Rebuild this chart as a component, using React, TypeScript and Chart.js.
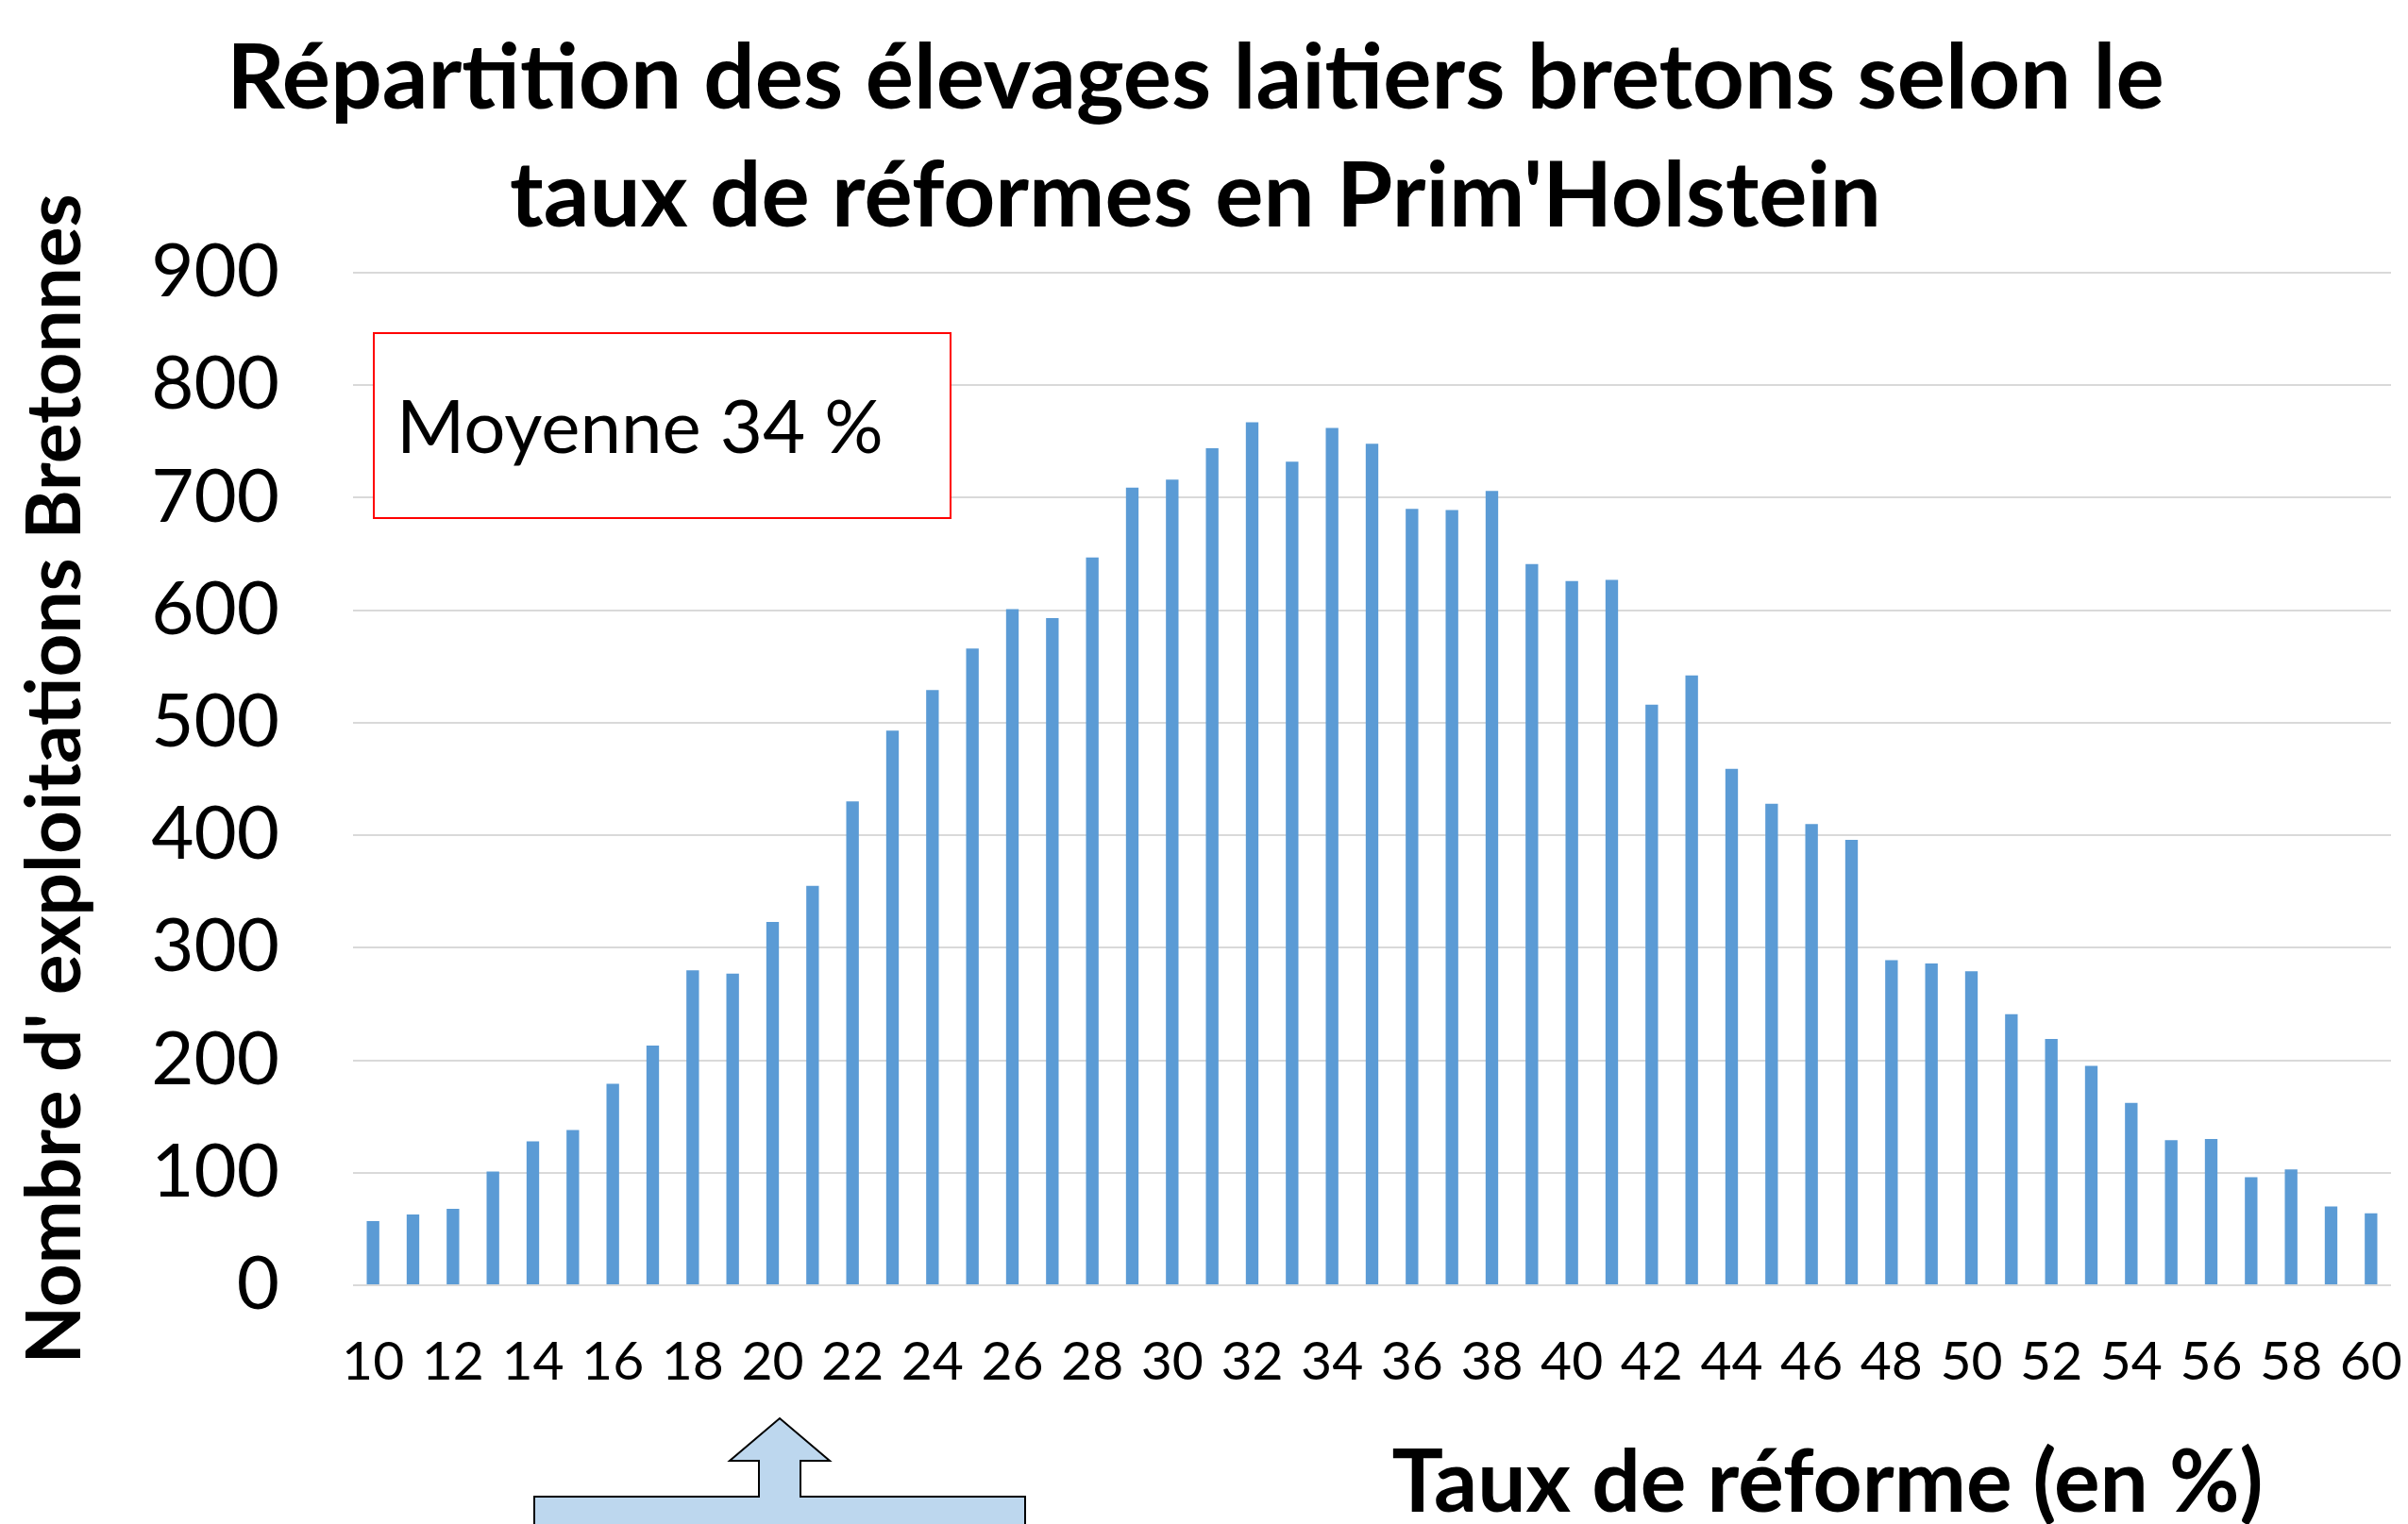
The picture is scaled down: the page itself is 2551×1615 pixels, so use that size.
import React, { useEffect, useRef } from 'react';
import { Chart, registerables } from 'chart.js';

Chart.register(...registerables);

// ---- Data ----
const categories: string[] = [
  '10', '11', '12', '13', '14', '15', '16', '17', '18', '19',
  '20', '21', '22', '23', '24', '25', '26', '27', '28', '29',
  '30', '31', '32', '33', '34', '35', '36', '37', '38', '39',
  '40', '41', '42', '43', '44', '45', '46', '47', '48', '49',
  '50', '51', '52', '53', '54', '55', '56', '57', '58', '59', '60',
];

const counts: number[] = [
  57, 63, 68, 101, 128, 138, 179, 213, 280, 277,
  323, 355, 430, 493, 529, 566, 601, 593, 647, 709,
  716, 744, 767, 732, 762, 748, 690, 689, 706, 641,
  626, 627, 516, 542, 459, 428, 410, 396, 289, 286,
  279, 241, 219, 195, 162, 129, 130, 96, 103, 70, 64,
];

const yMin = 0;
const yMax = 900;
const yStep = 100;

const titleLines: string[] = [
  'Répartition des élevages laitiers bretons selon le',
  "taux de réformes en Prim'Holstein",
];
const yAxisTitle = "Nombre d' exploitations Bretonnes";
const xAxisTitle = 'Taux de réforme (en %)';
const annotationText = 'Moyenne 34 %';

// ---- Styles ----
const BAR_COLOR = '#5B9BD5';
const GRID_COLOR = '#D9D9D9';
const FONT = 'Lato';

const overlayPlugin = {
  id: 'overlay',
  afterDraw(chart: any) {
    const ctx = chart.ctx as CanvasRenderingContext2D;
    ctx.save();

    // Annotation box "Moyenne 34 %"
    const bx = 396, by = 353, bw = 611, bh = 196;
    ctx.fillStyle = '#FFFFFF';
    ctx.fillRect(bx, by, bw, bh);
    ctx.strokeStyle = '#FF0000';
    ctx.lineWidth = 2;
    ctx.strokeRect(bx, by, bw, bh);
    ctx.fillStyle = '#000000';
    ctx.font = `78px ${FONT}`;
    ctx.textAlign = 'left';
    ctx.textBaseline = 'alphabetic';
    ctx.fillText(annotationText, 420, 480);

    // X axis title (offset to the right, as in the original)
    ctx.font = `bold 91px ${FONT}`;
    ctx.textAlign = 'center';
    ctx.fillText(xAxisTitle, 1936, 1602);

    // Up-arrow callout at the bottom
    ctx.beginPath();
    ctx.moveTo(566, 1640);
    ctx.lineTo(566, 1586);
    ctx.lineTo(804, 1586);
    ctx.lineTo(804, 1548);
    ctx.lineTo(773, 1548);
    ctx.lineTo(826, 1503);
    ctx.lineTo(879, 1548);
    ctx.lineTo(848, 1548);
    ctx.lineTo(848, 1586);
    ctx.lineTo(1086, 1586);
    ctx.lineTo(1086, 1640);
    ctx.closePath();
    ctx.fillStyle = '#BDD7EE';
    ctx.fill();
    ctx.strokeStyle = '#000000';
    ctx.lineWidth = 2;
    ctx.stroke();

    ctx.restore();
  },
};

export default function App() {
  const canvasRef = useRef<HTMLCanvasElement | null>(null);

  useEffect(() => {
    const canvas = canvasRef.current;
    if (!canvas) return;
    const chart = new Chart(canvas, {
      type: 'bar',
      data: {
        labels: categories,
        datasets: [
          {
            label: 'Exploitations',
            data: counts,
            backgroundColor: BAR_COLOR,
            borderWidth: 0,
            categoryPercentage: 1,
            barPercentage: 0.315,
          },
        ],
      },
      options: {
        responsive: false,
        animation: false,
        devicePixelRatio: 1,
        layout: { padding: { top: 0, left: 0, right: 18, bottom: 0 } },
        plugins: {
          legend: { display: false },
          tooltip: { enabled: false },
          title: {
            display: true,
            text: titleLines,
            color: '#000000',
            font: { family: FONT, weight: 'bold', size: 96, lineHeight: 125 / 96 },
            padding: { top: 22, bottom: 17 },
          },
        },
        scales: {
          x: {
            grid: { display: false, drawTicks: false },
            border: { display: false },
            ticks: {
              autoSkip: false,
              maxRotation: 0,
              minRotation: 0,
              padding: 47,
              color: '#000000',
              font: { family: FONT, size: 57 },
              callback: function (this: any, value: any, index: number) {
                return index % 2 === 0 ? this.getLabelForValue(value) : '';
              },
            },
            afterFit: (scale: any) => {
              scale.height = 253;
              scale.paddingLeft = 0;
              scale.paddingRight = 0;
            },
          },
          y: {
            min: yMin,
            max: yMax,
            grid: { color: GRID_COLOR, lineWidth: 2, drawTicks: false },
            border: { display: false },
            ticks: {
              stepSize: yStep,
              padding: 78,
              color: '#000000',
              font: { family: FONT, size: 78 },
            },
            title: {
              display: true,
              text: yAxisTitle,
              color: '#000000',
              font: { family: FONT, weight: 'bold', size: 80 },
              padding: { top: 11, bottom: 0 },
            },
            afterFit: (scale: any) => {
              scale.width = 374;
            },
          },
        },
      },
      plugins: [overlayPlugin],
    });
    return () => chart.destroy();
  }, []);

  return (
    <div style={{ position: 'fixed', left: 0, top: 0, width: 2551, height: 1615, background: '#FFFFFF', overflow: 'hidden' }}>
      <canvas ref={canvasRef} width={2551} height={1615} style={{ width: 2551, height: 1615, display: 'block' }} />
    </div>
  );
}
